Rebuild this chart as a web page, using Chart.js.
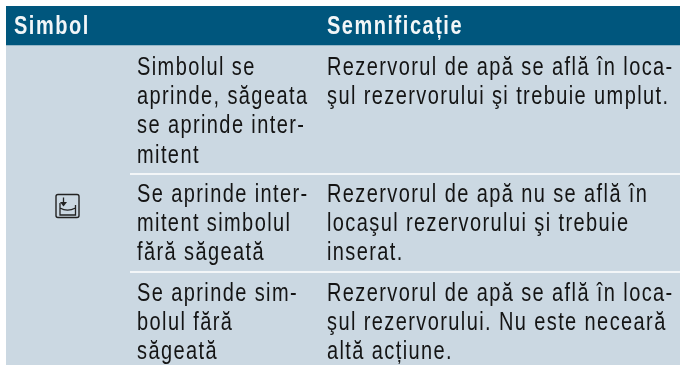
<!DOCTYPE html>
<html>
<head>
<meta charset="utf-8">
<script src="https://cdn.jsdelivr.net/npm/chart.js@4"></script>
<style>
  html, body { margin: 0; padding: 0; background: #fff; overflow: hidden; }
  canvas { display: block; }
</style>
</head>
<body>
<canvas id="tabel" width="680" height="365"></canvas>
<script>
const headers = ['Simbol', 'Semnificație'];
const bandNames = ['Antet', 'Corp'];
const bandHeights = [39, 320];
const ruleDepths = [168, 266];
const descriptions = [
    ['Simbolul se', 'aprinde, săgeata', 'se aprinde inter-', 'mitent'],
    ['Se aprinde inter-', 'mitent simbolul', 'fără săgeată'],
    ['Se aprinde sim-', 'bolul fără', 'săgeată']
];
const meanings = [
    ['Rezervorul de apă se află în loca-', 'şul rezervorului şi trebuie umplut.'],
    ['Rezervorul de apă nu se află în', 'locaşul rezervorului şi trebuie', 'inserat.'],
    ['Rezervorul de apă se află în loca-', 'şul rezervorului. Nu este neceară', 'altă acțiune.']
];
const firstBaselines = [69, 196, 295];

const tableWidth = 674;
const bandColors = ['#00567d', '#cbd8e2'];
const lineStep = 29.2;
const bodyFont = '25px "Liberation Sans", sans-serif';
const headFont = 'bold 25px "Liberation Sans", sans-serif';
const narrow = 0.8;

// texte si simbol peste benzile tabelului
const tableText = {
    id: 'tableText',
    afterDatasetsDraw(chart) {
        const { ctx, scales } = chart;
        const px = v => scales.x.getPixelForValue(v);
        const py = v => scales.y.getPixelForValue(v);
        const put = (text, x, y) => {
            ctx.save();
            ctx.translate(px(x), py(y));
            ctx.scale(narrow, 1);
            ctx.fillText(text, 0, 0);
            ctx.restore();
        };
        ctx.save();
        ctx.textBaseline = 'alphabetic';

        ctx.font = headFont;
        ctx.letterSpacing = '1.9px';
        ctx.fillStyle = '#f2f6f8';
        put(headers[0], 8, 28);
        put(headers[1], 321, 28);

        ctx.font = bodyFont;
        ctx.letterSpacing = '1.75px';
        ctx.fillStyle = '#141414';
        descriptions.forEach((lines, r) => lines.forEach((line, i) => {
            put(line, 131, firstBaselines[r] + i * lineStep);
        }));
        meanings.forEach((lines, r) => lines.forEach((line, i) => {
            put(line, 321, firstBaselines[r] + i * lineStep);
        }));

        // simbolul rezervorului
        ctx.strokeStyle = '#222';
        ctx.lineWidth = 1.4;
        ctx.beginPath();
        ctx.roundRect(px(50), py(188.5), 23, 23, 2);
        ctx.stroke();
        ctx.lineWidth = 1.3;
        ctx.beginPath();
        ctx.moveTo(px(54), py(197));
        ctx.lineTo(px(54), py(209));
        ctx.lineTo(px(69.5), py(209));
        ctx.lineTo(px(69.5), py(199));
        ctx.moveTo(px(54), py(202));
        ctx.bezierCurveTo(px(59), py(205), px(64), py(205), px(69.5), py(202));
        ctx.moveTo(px(57.5), py(191.5));
        ctx.lineTo(px(57.5), py(198));
        ctx.stroke();
        ctx.fillStyle = '#222';
        ctx.beginPath();
        ctx.moveTo(px(54), py(196));
        ctx.lineTo(px(61), py(196));
        ctx.lineTo(px(57.5), py(200.5));
        ctx.closePath();
        ctx.fill();
        ctx.restore();
    }
};

const bandSets = bandNames.map((name, i) => ({
    type: 'bar',
    label: name,
    data: [{ x: tableWidth / 2, y: bandHeights[i] }],
    backgroundColor: bandColors[i],
    borderWidth: 0,
    barThickness: tableWidth,
    stack: 'tabel',
    order: 2
}));

const ruleSets = ruleDepths.map((depth, i) => ({
    type: 'line',
    label: 'Separator',
    data: [{ x: 124, y: depth }, { x: tableWidth, y: depth }],
    borderColor: '#f3f6f8',
    borderWidth: 2,
    pointRadius: 0,
    stack: 'linie' + i,
    order: 1
}));

new Chart(document.getElementById('tabel').getContext('2d'), {
    data: {
        datasets: [...bandSets, ...ruleSets]
    },
    options: {
        responsive: false,
        animation: false,
        layout: { autoPadding: false, padding: { left: 6, top: 6, right: 0, bottom: 0 } },
        plugins: { legend: { display: false }, tooltip: { enabled: false } },
        scales: {
            x: { type: 'linear', display: false, min: 0, max: tableWidth, offset: false },
            y: { display: false, stacked: true, reverse: true, min: 0, max: 359 }
        }
    },
    plugins: [tableText]
});
</script>
</body>
</html>
